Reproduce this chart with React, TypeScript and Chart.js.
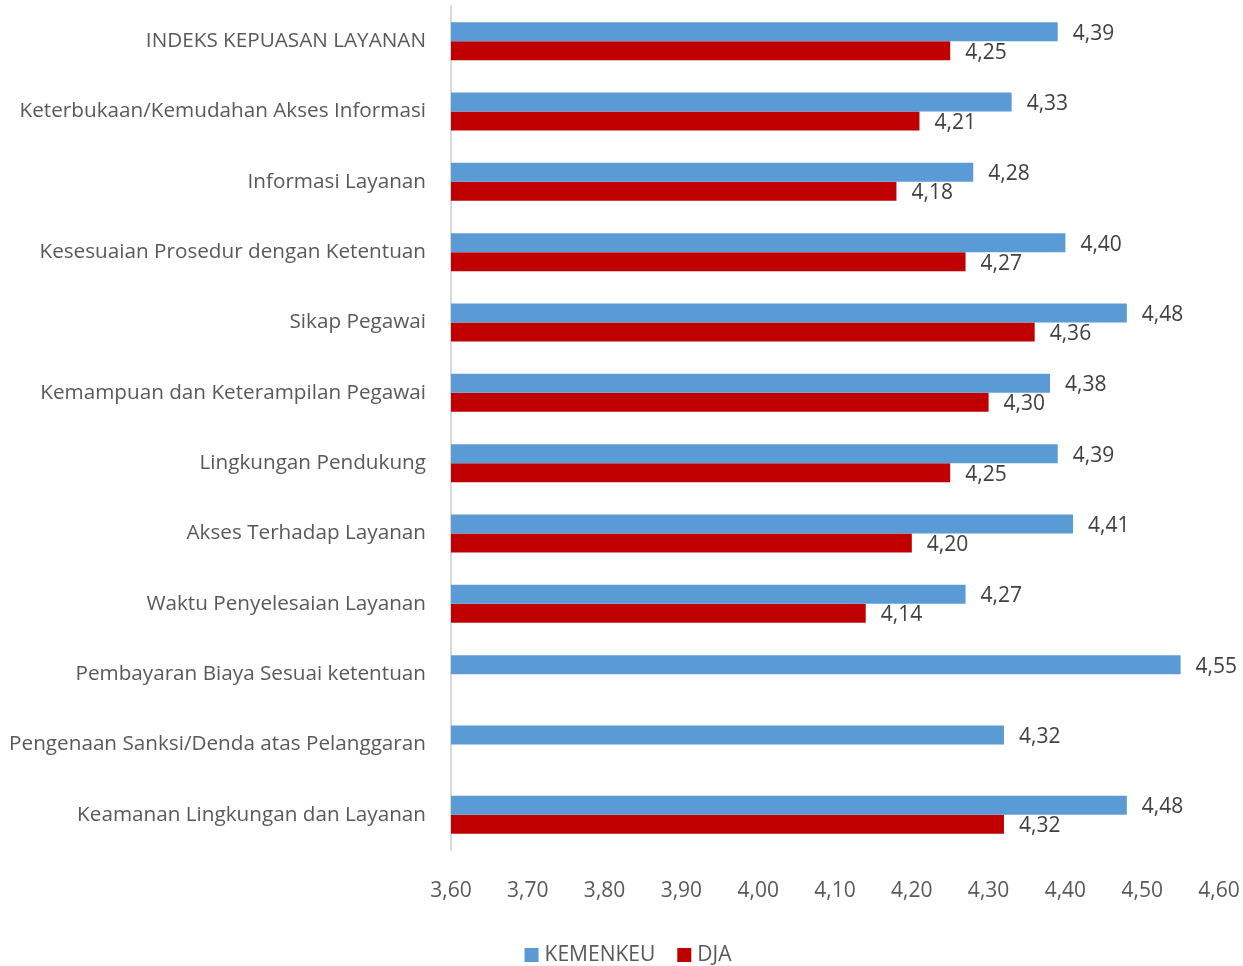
import React, { useEffect, useRef } from "react";
import { Chart, registerables } from "chart.js";

Chart.register(...registerables);

const categories = [
  "INDEKS KEPUASAN LAYANAN",
  "Keterbukaan/Kemudahan Akses Informasi",
  "Informasi Layanan",
  "Kesesuaian Prosedur dengan Ketentuan",
  "Sikap Pegawai",
  "Kemampuan dan Keterampilan Pegawai",
  "Lingkungan Pendukung",
  "Akses Terhadap Layanan",
  "Waktu Penyelesaian Layanan",
  "Pembayaran Biaya Sesuai ketentuan",
  "Pengenaan Sanksi/Denda atas Pelanggaran",
  "Keamanan Lingkungan dan Layanan",
];

const kemenkeu = [4.39, 4.33, 4.28, 4.4, 4.48, 4.38, 4.39, 4.41, 4.27, 4.55, 4.32, 4.48];
const dja = [4.25, 4.21, 4.18, 4.27, 4.36, 4.3, 4.25, 4.2, 4.14, null, null, 4.32];

const seriesNames = ["KEMENKEU", "DJA"];
const seriesColors = ["#5B9BD5", "#C00000"];

const xMin = 3.6;
const xMax = 4.6;
const xStep = 0.1;

const FONT = "'Open Sans', 'Noto Sans', sans-serif";
const FS = 21;

const fmt = (v: number) => v.toFixed(2).replace(".", ",");

const dataLabels = {
  id: "dataLabels",
  afterDatasetsDraw(chart: any) {
    const ctx = chart.ctx;
    ctx.save();
    ctx.font = `${FS}px ${FONT}`;
    ctx.fillStyle = "#404040";
    ctx.textAlign = "left";
    ctx.textBaseline = "middle";
    chart.data.datasets.forEach((ds: any, di: number) => {
      const meta = chart.getDatasetMeta(di);
      meta.data.forEach((el: any, i: number) => {
        const v = ds.data[i];
        if (v === null || v === undefined) return;
        ctx.fillText(fmt(v), el.x + 15, el.y + 2);
      });
    });
    ctx.restore();
  },
};

const bottomLegend = {
  id: "bottomLegend",
  afterDraw(chart: any) {
    const ctx = chart.ctx;
    ctx.save();
    ctx.font = `${FS}px ${FONT}`;
    ctx.textBaseline = "middle";
    ctx.textAlign = "left";
    const box = 14;
    const gap = 6;
    const spacing = 22;
    const items = chart.data.datasets.map((ds: any) => ({
      text: ds.label,
      color: ds.backgroundColor,
      w: box + gap + ctx.measureText(ds.label).width,
    }));
    const total = items.reduce((a: number, it: any) => a + it.w, 0) + spacing * (items.length - 1);
    let x = 628 - total / 2;
    const y = 955;
    items.forEach((it: any) => {
      ctx.fillStyle = it.color;
      ctx.fillRect(x, y - box / 2, box, box);
      ctx.fillStyle = "#595959";
      ctx.fillText(it.text, x + box + gap, y);
      x += it.w + spacing;
    });
    ctx.restore();
  },
};

export default function App() {
  const ref = useRef<HTMLCanvasElement>(null);
  useEffect(() => {
    if (!ref.current) return;
    const chart = new Chart(ref.current, {
      type: "bar",
      data: {
        labels: categories,
        datasets: [
          { label: seriesNames[0], data: kemenkeu, backgroundColor: seriesColors[0] },
          { label: seriesNames[1], data: dja as any, backgroundColor: seriesColors[1] },
        ],
      },
      options: {
        indexAxis: "y",
        animation: false,
        responsive: true,
        maintainAspectRatio: false,
        datasets: { bar: { barPercentage: 1, categoryPercentage: 0.54 } },
        layout: { padding: { top: 6, right: 24, left: 0, bottom: 0 } },
        scales: {
          x: {
            min: xMin,
            max: xMax,
            grid: { display: false, drawTicks: false },
            border: { display: false },
            ticks: {
              stepSize: xStep,
              padding: 28,
              color: "#595959",
              font: { family: FONT, size: FS },
              callback: (v: any) => fmt(Number(v)),
            },
            afterFit: (s: any) => {
              s.height = 116;
              s.paddingLeft = 0;
              s.paddingRight = 0;
            },
          },
          y: {
            grid: { display: false, drawTicks: false },
            border: { display: true, color: "#D9D9D9", width: 2 },
            ticks: {
              padding: 25,
              color: "#595959",
              font: { family: FONT, size: 20.7 },
            },
            afterFit: (s: any) => {
              s.width = 451;
              s.paddingTop = 0;
              s.paddingBottom = 0;
            },
          },
        },
        plugins: {
          legend: { display: false },
          tooltip: { enabled: false },
        },
      },
      plugins: [dataLabels, bottomLegend],
    });
    return () => chart.destroy();
  }, []);
  return (
    <div style={{ position: "absolute", left: 0, top: 0, width: 1243, height: 966, background: "#fff" }}>
      <canvas ref={ref} />
    </div>
  );
}
